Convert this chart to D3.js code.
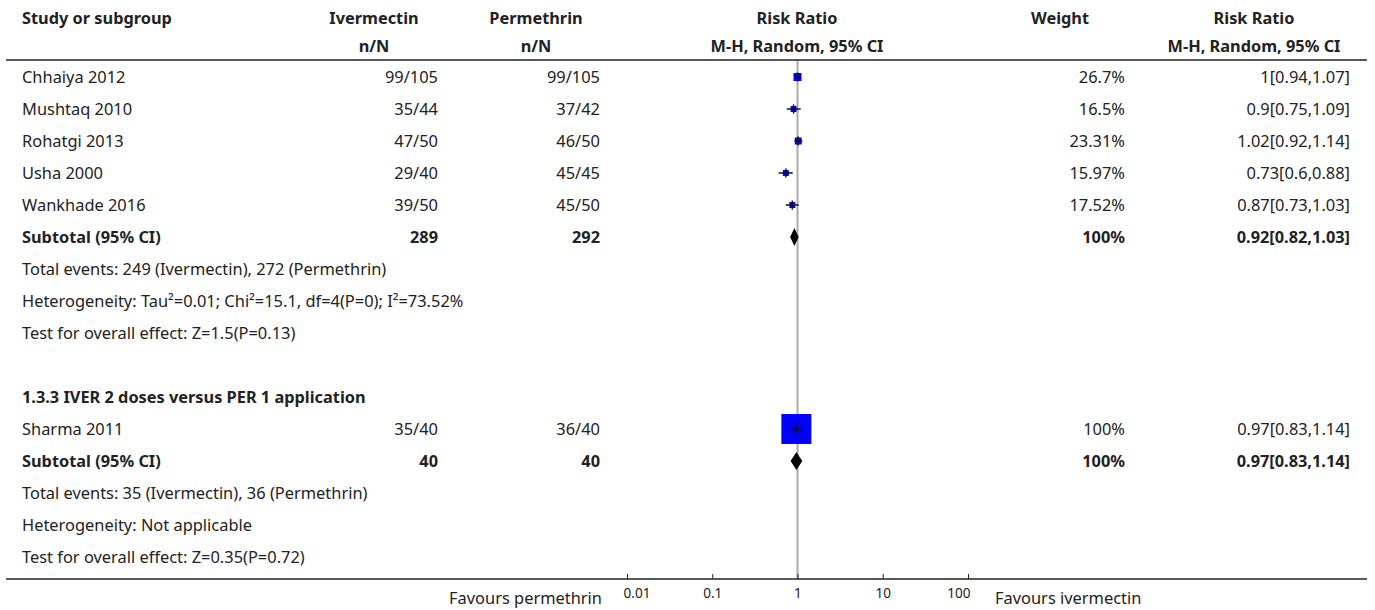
<!DOCTYPE html>
<html>
<head>
<meta charset="utf-8">
<script src="https://cdn.jsdelivr.net/npm/d3@7"></script>
<style>
  html, body { margin: 0; padding: 0; background: #fff; }
  svg { display: block; }
  text { font-family: "Noto Sans", Lato, sans-serif; fill: #222; }
</style>
</head>
<body>
<svg id="chart" width="1375" height="610"></svg>
<script>
// ---------- data ----------
const studies      = ["Chhaiya 2012", "Mushtaq 2010", "Rohatgi 2013", "Usha 2000", "Wankhade 2016", "Sharma 2011"];
const studyGroup   = [0, 0, 0, 0, 0, 1];
const ivermectinNN = ["99/105", "35/44", "47/50", "29/40", "39/50", "35/40"];
const permethrinNN = ["99/105", "37/42", "46/50", "45/45", "45/50", "36/40"];
const weights      = [26.7, 16.5, 23.31, 15.97, 17.52, 100];
const weightLabels = ["26.7%", "16.5%", "23.31%", "15.97%", "17.52%", "100%"];
const rr           = [1, 0.9, 1.02, 0.73, 0.87, 0.97];
const rrLow        = [0.94, 0.75, 0.92, 0.6, 0.73, 0.83];
const rrHigh       = [1.07, 1.09, 1.14, 0.88, 1.03, 1.14];
const rrLabels     = ["1[0.94,1.07]", "0.9[0.75,1.09]", "1.02[0.92,1.14]", "0.73[0.6,0.88]", "0.87[0.73,1.03]", "0.97[0.83,1.14]"];

const subgroupTitles = [null, "1.3.3 IVER 2 doses versus PER 1 application"];
const subIverTotal = ["289", "40"];
const subPermTotal = ["292", "40"];
const subWeight    = ["100%", "100%"];
const subRR        = [0.92, 0.97];
const subLow       = [0.82, 0.83];
const subHigh      = [1.03, 1.14];
const subRRLabels  = ["0.92[0.82,1.03]", "0.97[0.83,1.14]"];
const subNotes = [
  ["Total events: 249 (Ivermectin), 272 (Permethrin)",
   "Heterogeneity: Tau\u00B2=0.01; Chi\u00B2=15.1, df=4(P=0); I\u00B2=73.52%",
   "Test for overall effect: Z=1.5(P=0.13)"],
  ["Total events: 35 (Ivermectin), 36 (Permethrin)",
   "Heterogeneity: Not applicable",
   "Test for overall effect: Z=0.35(P=0.72)"]
];

const tickValues = [0.01, 0.1, 1, 10, 100];
const tickLabels = ["0.01", "0.1", "1", "10", "100"];
const favoursLeft = "Favours permethrin";
const favoursRight = "Favours ivermectin";

// ---------- build rows ----------
const rows = [];
[0, 1].forEach(g => {
  if (subgroupTitles[g]) {
    if (g > 0) rows.push({type: "blank"});
    rows.push({type: "title", text: subgroupTitles[g]});
  }
  studies.forEach((s, i) => {
    if (studyGroup[i] === g) rows.push({type: "study", i});
  });
  rows.push({type: "subtotal", g});
  subNotes[g].forEach(t => rows.push({type: "note", text: t}));
});

const svg = d3.select("#chart");

// fit font sizes so text widths match the reference
function fitSize(str, target, weight) {
  const t = svg.append("text").attr("font-size", 100).attr("font-weight", weight).text(str);
  const w = t.node().getComputedTextLength();
  t.remove();
  return 100 * target / w;
}
const FS  = fitSize("Test for overall effect: Z=0.35(P=0.72)", 283, "normal");
const FSB = fitSize("Study or subgroup", 150, "bold");
const FST = fitSize("0.01", 27, "normal");

// ---------- layout ----------
const colStudy = 22;
const colIverR = 438, colIverC = 374;
const colPermR = 600, colPermC = 536;
const colWeightR = 1125, colWeightC = 1060;
const colRRR = 1350, colRRC = 1254;
const plotC = 797;
const headerLineY = 60, bottomLineY = 579;

const y = d3.scaleLinear().domain([0, rows.length - 1]).range([77, 77 + 32 * (rows.length - 1)]);
const x = d3.scaleLog().domain([0.01, 100]).range([627, 968]);
const sq = d3.scaleLinear().domain([0, 100]).range([0, 30]);

// headers
const hdr = svg.append("g").attr("font-weight", "bold").attr("font-size", FSB);
hdr.append("text").attr("x", colStudy).attr("y", 18).attr("dy", "0.35em").text("Study or subgroup");
[[colIverC, "Ivermectin"], [colPermC, "Permethrin"], [plotC, "Risk Ratio"], [colWeightC, "Weight"], [colRRC, "Risk Ratio"]]
  .forEach(([cx, t]) => hdr.append("text").attr("x", cx).attr("y", 18).attr("dy", "0.35em").attr("text-anchor", "middle").text(t));
[[colIverC, "n/N"], [colPermC, "n/N"], [plotC, "M-H, Random, 95% CI"], [colRRC, "M-H, Random, 95% CI"]]
  .forEach(([cx, t]) => hdr.append("text").attr("x", cx).attr("y", 46).attr("dy", "0.35em").attr("text-anchor", "middle").text(t));

// vertical reference line at 1
svg.append("line").attr("x1", x(1)).attr("x2", x(1)).attr("y1", headerLineY).attr("y2", bottomLineY)
  .attr("stroke", "#ababab").attr("stroke-width", 2);

svg.append("line").attr("x1", 6).attr("x2", 1367).attr("y1", headerLineY).attr("y2", headerLineY)
  .attr("stroke", "#222").attr("stroke-width", 1.5);

const body = svg.append("g");

rows.forEach((r, k) => {
  const yy = y(k);
  const t = (xx, txt, anchor, bold) => body.append("text").attr("x", xx).attr("y", yy).attr("dy", "0.35em")
      .attr("text-anchor", anchor).attr("font-weight", bold ? "bold" : "normal")
      .attr("font-size", bold ? FSB : FS).text(txt);
  if (r.type === "title") {
    t(colStudy, r.text, "start", true);
  } else if (r.type === "note") {
    t(colStudy, r.text, "start", false);
  } else if (r.type === "study") {
    const i = r.i;
    t(colStudy, studies[i], "start", false);
    t(colIverR, ivermectinNN[i], "end", false);
    t(colPermR, permethrinNN[i], "end", false);
    t(colWeightR, weightLabels[i], "end", false);
    t(colRRR, rrLabels[i], "end", false);
    const s = Math.max(6, sq(weights[i]));
    body.append("rect").attr("x", x(rr[i]) - s / 2).attr("y", yy - s / 2)
      .attr("width", s).attr("height", s).attr("fill", "#0000ff");
    body.append("line").attr("x1", x(rrLow[i])).attr("x2", x(rrHigh[i])).attr("y1", yy).attr("y2", yy)
      .attr("stroke", "#111").attr("stroke-width", 1.5);
    body.append("line").attr("x1", x(rr[i])).attr("x2", x(rr[i])).attr("y1", yy - 4.5).attr("y2", yy + 4.5)
      .attr("stroke", "#111").attr("stroke-width", 1.5);
  } else if (r.type === "subtotal") {
    const g = r.g;
    t(colStudy, "Subtotal (95% CI)", "start", true);
    t(colIverR, subIverTotal[g], "end", true);
    t(colPermR, subPermTotal[g], "end", true);
    t(colWeightR, subWeight[g], "end", true);
    t(colRRR, subRRLabels[g], "end", true);
    const xl = x(subLow[g]), xh = x(subHigh[g]), xm = x(subRR[g]);
    body.append("path")
      .attr("d", `M${xl},${yy} L${xm},${yy - 9} L${xh},${yy} L${xm},${yy + 9} Z`)
      .attr("fill", "#000");
  }
});

// bottom rule
svg.append("line").attr("x1", 6).attr("x2", 1367).attr("y1", bottomLineY).attr("y2", bottomLineY)
  .attr("stroke", "#222").attr("stroke-width", 1.5);

// axis
const axis = d3.axisBottom(x).tickValues(tickValues)
  .tickFormat((d, i) => tickLabels[i]).tickSizeInner(-5).tickSizeOuter(0).tickPadding(9);
const ax = svg.append("g").attr("transform", `translate(0,${bottomLineY})`).call(axis);
ax.select(".domain").remove();
ax.selectAll(".tick line").attr("stroke", "#222");
ax.selectAll(".tick text").attr("font-family", "'Noto Sans', Lato, sans-serif").attr("font-size", FST).attr("fill", "#222")
  .attr("text-anchor", (d, i) => i === 0 ? "start" : (i === tickValues.length - 1 ? "end" : "middle"))
  .attr("dx", (d, i) => i === 0 ? -4 : (i === tickValues.length - 1 ? 2 : 0));

svg.append("text").attr("x", 602).attr("y", 598).attr("dy", "0.35em").attr("text-anchor", "end")
  .attr("font-size", FS).text(favoursLeft);
svg.append("text").attr("x", 995).attr("y", 598).attr("dy", "0.35em").attr("text-anchor", "start")
  .attr("font-size", FS).text(favoursRight);
</script>
</body>
</html>
